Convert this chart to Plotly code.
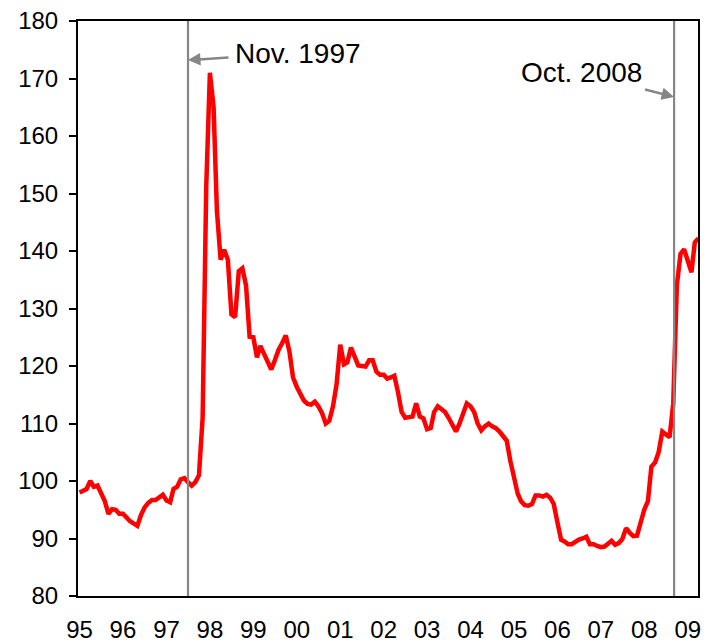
import pandas as pd
import plotly.graph_objects as go

# monthly index, Jan 1995 - Apr 2009
v1995 = [98.0, 98.4, 98.6, 100.0, 99.0, 99.2, 97.9, 96.5, 94.3, 95.1, 95.0, 94.3]
v1996 = [94.3, 93.5, 93.0, 92.6, 92.2, 94.1, 95.4, 96.2, 96.7, 96.7, 97.2, 97.6]
v1997 = [96.6, 96.3, 98.6, 99.0, 100.3, 100.5, 99.8, 99.2, 99.8, 101.0, 111.0, 151.0]
v1998 = [171.0, 165.0, 147.0, 138.5, 140.2, 138.5, 129.0, 128.5, 136.5, 137.0, 134.0, 125.1]
v1999 = [125.0, 121.5, 123.5, 122.0, 120.8, 119.4, 121.0, 122.8, 124.0, 125.3, 122.5, 118.0]
v2000 = [116.4, 115.0, 114.0, 113.4, 113.3, 113.8, 113.0, 111.8, 110.0, 110.5, 113.0, 116.8]
v2001 = [123.7, 120.3, 120.6, 123.2, 121.8, 120.1, 120.0, 119.9, 121.0, 121.0, 119.0, 118.5]
v2002 = [118.5, 117.8, 118.0, 118.3, 115.5, 112.0, 111.0, 111.2, 111.2, 113.5, 111.2, 110.9]
v2003 = [109.0, 109.2, 112.0, 113.0, 112.6, 112.0, 111.0, 109.6, 108.6, 110.0, 111.8, 113.5]
v2004 = [113.0, 112.0, 110.0, 108.8, 109.5, 110.0, 109.5, 109.2, 108.6, 107.8, 107.0, 103.5]
v2005 = [100.5, 97.8, 96.5, 95.8, 95.7, 96.0, 97.5, 97.5, 97.3, 97.6, 97.1, 96.0]
v2006 = [92.8, 89.8, 89.5, 89.0, 89.0, 89.5, 89.8, 90.0, 90.3, 89.0, 89.0, 88.7]
v2007 = [88.5, 88.6, 89.1, 89.6, 88.9, 89.2, 89.9, 91.8, 91.0, 90.4, 90.5, 93.1]
v2008 = [95.0, 96.5, 102.5, 103.2, 105.0, 108.6, 108.1, 107.6, 113.5, 134.0, 139.5, 140.3]
v2009 = [138.3, 136.3, 141.5, 142.2]

values = (v1995 + v1996 + v1997 + v1998 + v1999 + v2000 + v2001 + v2002
          + v2003 + v2004 + v2005 + v2006 + v2007 + v2008 + v2009)
months = pd.date_range("1995-01-01", periods=len(values), freq="MS")

year_ticks = [pd.Timestamp(f"{y}-01-01") for y in range(1995, 2010)]
event_dates = ["1997-07-01", "2008-09-08"]
event_labels = ["Nov. 1997", "Oct. 2008"]

font_family = "Arial, Liberation Sans, sans-serif"

fig = go.Figure()
fig.add_trace(go.Scatter(
    x=months, y=values, mode="lines",
    line=dict(color="#ff0000", width=4.5),
    showlegend=False,
))

for d in event_dates:
    fig.add_shape(type="line", xref="x", yref="paper",
                  x0=d, x1=d, y0=0, y1=1,
                  line=dict(color="#868686", width=2.2))

fig.add_annotation(x=event_dates[0], y=173.2, text=event_labels[0],
                   showarrow=True, arrowhead=2, arrowsize=1, arrowwidth=2.5,
                   arrowcolor="#868686", ax=110, ay=-7, borderpad=6,
                   font=dict(size=28, color="black", family=font_family))
fig.add_annotation(x=event_dates[1], y=166.8, text=event_labels[1],
                   showarrow=True, arrowhead=2, arrowsize=1, arrowwidth=2.5,
                   arrowcolor="#868686", ax=-93, ay=-24, borderpad=3,
                   font=dict(size=28, color="black", family=font_family))

fig.update_xaxes(
    type="date", range=["1994-12-19", "2009-03-28"],
    tickvals=year_ticks, tickformat="%y",
    showgrid=False, ticks="", ticklabelstandoff=11, automargin=False,
    showline=True, linecolor="black", linewidth=2, mirror=True,
    tickfont=dict(size=24, color="black", family=font_family),
)
fig.update_yaxes(
    range=[80, 180], dtick=10,
    showgrid=False, zeroline=False, ticks="outside", ticklen=7,
    tickcolor="black", tickwidth=1.5, ticklabelstandoff=6, automargin=False,
    showline=True, linecolor="black", linewidth=2, mirror=True,
    tickfont=dict(size=24, color="black", family=font_family),
)

fig.update_layout(
    width=708, height=644,
    margin=dict(l=78, r=10, t=21, b=48),
    plot_bgcolor="white", paper_bgcolor="white",
    font=dict(family=font_family),
)

# drop the browser's default 8px body margin so the figure sits at 0,0
fig.write_html(
    "out.html",
    config={"displayModeBar": False},
    post_script="document.body.style.margin='0';"
                "document.documentElement.style.overflow='hidden';",
)
